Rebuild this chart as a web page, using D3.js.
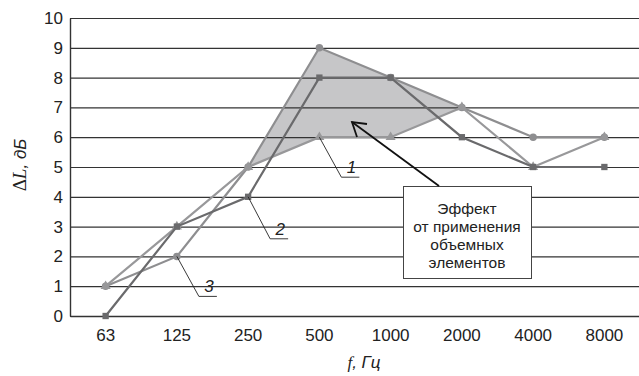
<!DOCTYPE html>
<html><head><meta charset="utf-8">
<script src="https://cdn.jsdelivr.net/npm/d3@7"></script>
<style>body{margin:0;background:#fff}svg{display:block}</style>
</head><body><svg id="c" width="639" height="376"></svg>
<script>
const categories = ["63","125","250","500","1000","2000","4000","8000"];
const series1 = [1,3,5,6,6,7,5,6];
const series2 = [0,3,4,8,8,6,5,5];
const series3 = [1,2,5,9,8,7,6,6];
const yTicks = [0,1,2,3,4,5,6,7,8,9,10];
const boxLines = ["Эффект","от применения","объемных","элементов"];

const svg = d3.select("#c");
const x = d3.scaleBand().domain(categories).range([70,640]);
const y = d3.scaleLinear().domain([0,10]).range([316,18]);
const cx = c => x(c) + x.bandwidth()/2;
const SANS = "Liberation Sans, Arial, Helvetica, sans-serif";

// shaded effect area: between series3 (upper) and series1 (lower) from 250 to 2000
const idx = [2,3,4,5];
const poly = idx.map(i => [cx(categories[i]), y(series3[i])])
  .concat(idx.slice().reverse().map(i => [cx(categories[i]), y(series1[i])]));
svg.append("path").attr("d", d3.line()(poly) + "Z").attr("fill","#c6c6c8");

// gridlines
svg.append("g").selectAll("line").data(yTicks).join("line")
  .attr("x1",70).attr("x2",639).attr("y1",d=>y(d)+0.5).attr("y2",d=>y(d)+0.5)
  .attr("stroke","#333").attr("stroke-width",1.2);

// axes
const ya = svg.append("g").attr("transform","translate(70,0)")
  .call(d3.axisLeft(y).tickValues(yTicks).tickSize(0).tickPadding(7));
ya.select(".domain").attr("stroke","#333").attr("stroke-width",1.4);
ya.selectAll("text").attr("font-family",SANS).attr("font-size",17).attr("fill","#222");
const xa = svg.append("g").attr("transform","translate(0,316)")
  .call(d3.axisBottom(x).tickSize(0).tickPadding(13));
xa.select(".domain").attr("stroke","#333").attr("stroke-width",1.4);
xa.selectAll("text").attr("font-family",SANS).attr("font-size",17).attr("fill","#222");

// lines
const line = d3.line().x((d,i)=>cx(categories[i])).y(d=>y(d));
const drawSeries = (data, color, shape, size) => {
  svg.append("path").datum(data).attr("d", line).attr("fill","none")
    .attr("stroke", color).attr("stroke-width", 2.2);
  svg.append("g").selectAll("path").data(data).join("path")
    .attr("transform",(d,i)=>`translate(${cx(categories[i])},${y(d)})`)
    .attr("d", d3.symbol().type(shape).size(size))
    .attr("fill", color);
};
drawSeries(series3, "#8e8e90", d3.symbolCircle, 44);
drawSeries(series1, "#98989a", d3.symbolTriangle, 44);
drawSeries(series2, "#6a6a6c", d3.symbolSquare, 40);

// leader labels
const leaders = [
  {t:"1", si:series1, i:3, dx:22, dy:40, hx:18},
  {t:"2", si:series2, i:2, dx:22, dy:42, hx:18},
  {t:"3", si:series3, i:1, dx:22, dy:40, hx:18}
];
leaders.forEach(L => {
  const px = cx(categories[L.i]), py = y(L.si[L.i]);
  svg.append("path").attr("d", `M${px},${py}L${px+L.dx},${py+L.dy}H${px+L.dx+L.hx}`)
    .attr("fill","none").attr("stroke","#222").attr("stroke-width",0.9);
  svg.append("text").attr("x", px+L.dx+10).attr("y", py+L.dy-4)
    .attr("text-anchor","middle").attr("font-family",SANS)
    .attr("font-style","italic").attr("font-size",17).attr("fill","#222").text(L.t);
});

// annotation box
svg.append("rect").attr("x",403.5).attr("y",186.5).attr("width",128).attr("height",92)
  .attr("fill","#fff").attr("stroke","#444").attr("stroke-width",1);
svg.append("g").selectAll("text").data(boxLines).join("text")
  .attr("x",467).attr("y",(d,i)=>213.5+i*18.3).attr("text-anchor","middle")
  .attr("font-family",SANS).attr("font-size",15.5).attr("fill","#222")
  .text(d=>d);

// arrow
svg.append("line").attr("x1",439).attr("y1",186).attr("x2",352).attr("y2",122)
  .attr("stroke","#111").attr("stroke-width",1.8);
svg.append("path").attr("d","M367,124L352,122L357,137").attr("fill","none")
  .attr("stroke","#111").attr("stroke-width",1.8);

// axis titles
svg.append("text").attr("transform","translate(26,165) rotate(-90)").attr("text-anchor","middle")
  .attr("font-family","Liberation Serif, Times New Roman, serif").attr("font-size",19).attr("fill","#222")
  .html('<tspan>Δ</tspan><tspan font-style="italic">L</tspan><tspan font-family="'+SANS+'" font-style="italic" font-size="17">, дБ</tspan>');
svg.append("text").attr("x",364).attr("y",368).attr("text-anchor","middle")
  .attr("font-size",17).attr("fill","#222")
  .html('<tspan font-family="Liberation Serif, serif" font-style="italic">f</tspan><tspan font-family="'+SANS+'" font-style="italic">, Гц</tspan>');
</script></body></html>
